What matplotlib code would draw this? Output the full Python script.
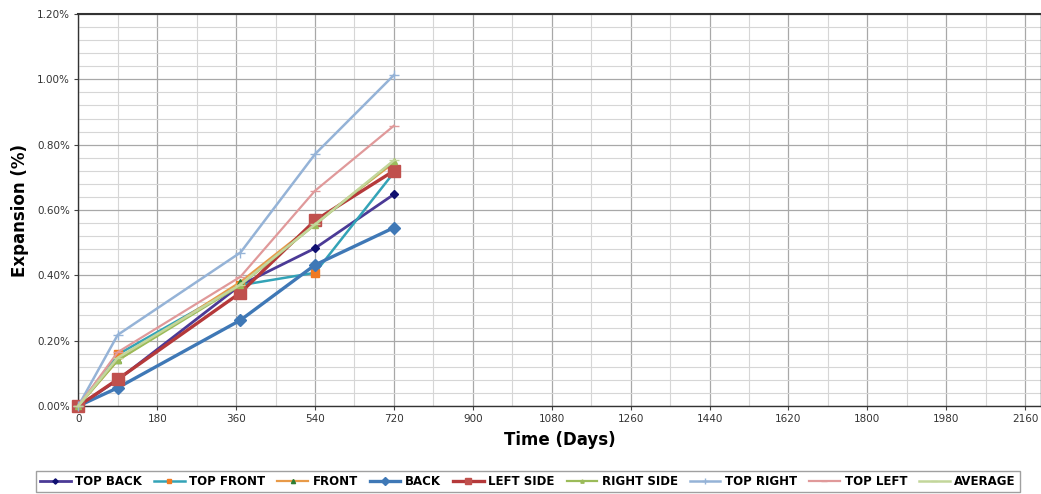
import numpy as np
import matplotlib
matplotlib.use("Agg")
import matplotlib.pyplot as plt
from matplotlib.ticker import MultipleLocator, PercentFormatter

# measurement ages (days)
days = [0, 90, 370, 540, 720]

# expansion (%) per gauge location
top_back = [0, 0.080, 0.370, 0.483, 0.648]
top_front = [0, 0.158, 0.370, 0.408, 0.715]
front = [0, 0.140, 0.380, 0.560, 0.745]
back = [0, 0.056, 0.263, 0.432, 0.546]
left_side = [0, 0.082, 0.347, 0.568, 0.720]
right_side = [0, 0.140, 0.370, 0.555, 0.750]
top_right = [0, 0.218, 0.470, 0.771, 1.013]
top_left = [0, 0.165, 0.396, 0.659, 0.858]
average = [0, 0.148, 0.372, 0.556, 0.752]

x_ticks = [0, 180, 360, 540, 720, 900, 1080, 1260, 1440, 1620, 1800, 1980, 2160]

fig = plt.figure(figsize=(10.41, 4.94), dpi=100)
ax = fig.add_axes([0.0752, 0.178, 0.9248, 0.7937])

# label, values, line colour, marker, marker colour, marker size, line width
series = [
    ("TOP BACK", top_back, "#4B3A96", "D", "#101070", 4.5, 2.0),
    ("TOP FRONT", top_front, "#33A3B7", "s", "#F07A22", 6, 1.8),
    ("FRONT", front, "#E89A48", "^", "#2E7D32", 5, 1.6),
    ("BACK", back, "#3F78B6", "D", "#3F78B6", 6.5, 2.4),
    ("LEFT SIDE", left_side, "#B5393A", "s", "#C0504D", 8, 2.4),
    ("RIGHT SIDE", right_side, "#9BBB59", "^", "#9BBB59", 4, 1.6),
    ("TOP RIGHT", top_right, "#95B3D7", "+", "#95B3D7", 7, 1.8),
    ("TOP LEFT", top_left, "#E0999A", "_", "#E0999A", 7, 1.6),
    ("AVERAGE", average, "#C3D69B", "_", "#C3D69B", 7, 1.8),
]

for name, vals, col, mk, mcol, ms, lw in series:
    ax.plot(days, vals, color=col, lw=lw, marker=mk, ms=ms,
            markerfacecolor=mcol, markeredgecolor=mcol, label=name,
            clip_on=False, zorder=3)

ax.set_xlim(0, 2196)
ax.set_ylim(0, 1.2)
ax.set_xticks(x_ticks)
ax.xaxis.set_minor_locator(MultipleLocator(90))
ax.yaxis.set_major_locator(MultipleLocator(0.2))
ax.yaxis.set_minor_locator(MultipleLocator(0.04))
ax.yaxis.set_major_formatter(PercentFormatter(xmax=100, decimals=2))

ax.grid(which="major", color="#a8a8a8", lw=0.9)
ax.grid(which="minor", color="#d6d6d6", lw=0.8)
ax.set_axisbelow(True)

ax.tick_params(which="major", length=3, width=0.8, color="#444444",
               labelsize=7.5, labelcolor="#333333", pad=3)
ax.tick_params(which="minor", length=0)

for s in ax.spines.values():
    s.set_color("#333333")
    s.set_linewidth(1.0)
ax.spines["top"].set_linewidth(1.5)

ax.set_xlabel("Time (Days)", fontsize=12, fontweight="bold", labelpad=5)
ax.set_ylabel("Expansion (%)", fontsize=12, fontweight="bold", labelpad=6)

leg = fig.legend(loc="center", bbox_to_anchor=(0.507, 0.026), ncol=9,
                 prop={"weight": "bold", "size": 8.5},
                 handlelength=2.6, columnspacing=1.0, handletextpad=0.4,
                 markerscale=0.6, frameon=True, fancybox=False,
                 borderpad=0.35)
leg.get_frame().set_edgecolor("#888888")
leg.get_frame().set_linewidth(1.0)

fig.savefig("out.png", dpi=100)
